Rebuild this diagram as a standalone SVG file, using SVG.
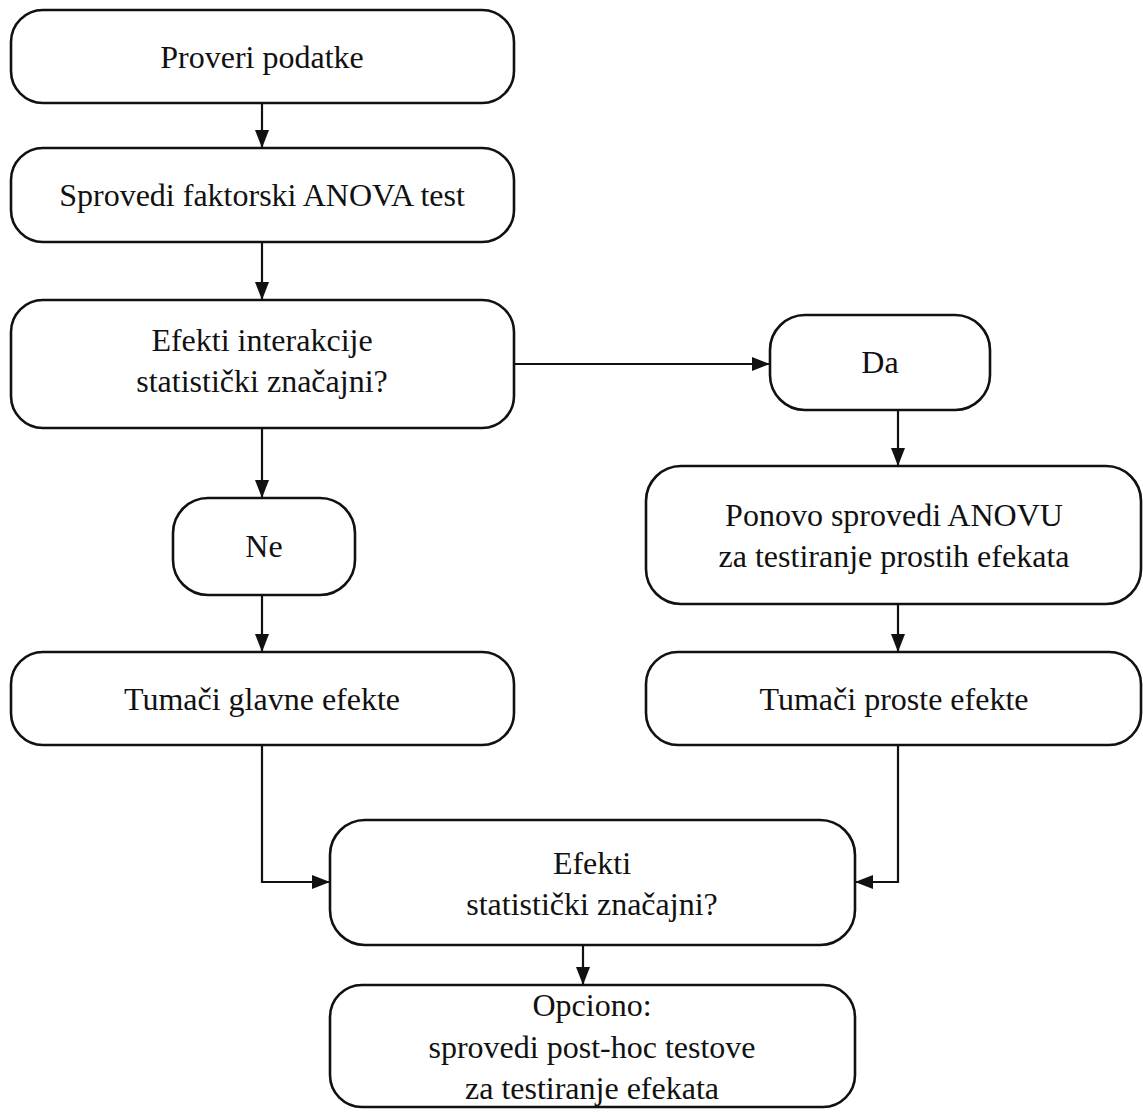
<svg xmlns="http://www.w3.org/2000/svg" width="1143" height="1112" viewBox="0 0 1143 1112">
<style>
.box{fill:#fff;stroke:#111;stroke-width:2.6}
text{font-family:'Liberation Serif','Times New Roman','DejaVu Serif',serif;font-size:32px;fill:#111;text-anchor:middle}
.c{fill:none;stroke:#111;stroke-width:2.2}
</style>
<defs>
<marker id="ah" markerWidth="18" markerHeight="14" refX="17" refY="7" orient="auto" markerUnits="userSpaceOnUse">
<path d="M0,0 L18,7 L0,14 Z" fill="#111"/>
</marker>
</defs>
<rect width="1143" height="1112" fill="#fff"/>
<g id="connectors">
<line class="c" x1="262" y1="103" x2="262" y2="147" marker-end="url(#ah)"/>
<line class="c" x1="262" y1="242" x2="262" y2="299" marker-end="url(#ah)"/>
<line class="c" x1="514" y1="364" x2="769" y2="364" marker-end="url(#ah)"/>
<line class="c" x1="262" y1="428" x2="262" y2="497" marker-end="url(#ah)"/>
<line class="c" x1="898" y1="410" x2="898" y2="465" marker-end="url(#ah)"/>
<line class="c" x1="262" y1="595" x2="262" y2="651" marker-end="url(#ah)"/>
<line class="c" x1="898" y1="604" x2="898" y2="651" marker-end="url(#ah)"/>
<polyline class="c" points="262,745 262,882 329,882" marker-end="url(#ah)"/>
<polyline class="c" points="898,745 898,882 856,882" marker-end="url(#ah)"/>
<line class="c" x1="583" y1="945" x2="583" y2="984" marker-end="url(#ah)"/>
</g>
<g id="n1"><rect class="box" x="11" y="10" width="503" height="93" rx="32"/><text x="262" y="68">Proveri podatke</text></g>
<g id="n2"><rect class="box" x="11" y="148" width="503" height="94" rx="32"/><text x="262" y="206">Sprovedi faktorski ANOVA test</text></g>
<g id="n3"><rect class="box" x="11" y="300" width="503" height="128" rx="32"/><text x="262" y="351">Efekti interakcije</text><text x="262" y="392">statistički značajni?</text></g>
<g id="da"><rect class="box" x="770" y="315" width="220" height="95" rx="35"/><text x="880" y="373">Da</text></g>
<g id="ne"><rect class="box" x="173" y="498" width="182" height="97" rx="35"/><text x="264" y="557">Ne</text></g>
<g id="ponovo"><rect class="box" x="646" y="466" width="495" height="138" rx="35"/><text x="894" y="526">Ponovo sprovedi ANOVU</text><text x="894" y="567">za testiranje prostih efekata</text></g>
<g id="glavne"><rect class="box" x="11" y="652" width="503" height="93" rx="32"/><text x="262" y="710">Tumači glavne efekte</text></g>
<g id="proste"><rect class="box" x="646" y="652" width="495" height="93" rx="32"/><text x="894" y="710">Tumači proste efekte</text></g>
<g id="efekti"><rect class="box" x="330" y="820" width="525" height="125" rx="35"/><text x="592" y="874">Efekti</text><text x="592" y="915">statistički značajni?</text></g>
<g id="opciono"><rect class="box" x="330" y="985" width="525" height="122" rx="32"/><text x="592" y="1016">Opciono:</text><text x="592" y="1058">sprovedi post-hoc testove</text><text x="592" y="1099">za testiranje efekata</text></g>
</svg>
